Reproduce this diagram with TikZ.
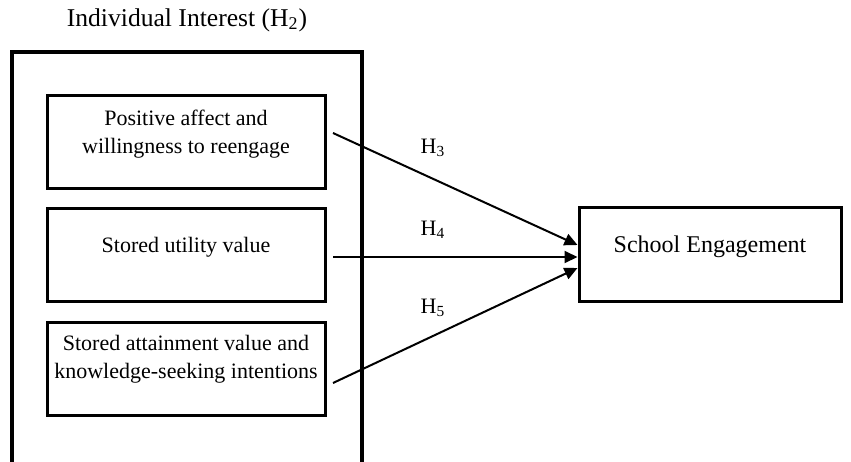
\documentclass[tikz,border=0pt]{standalone}
\usepackage{fontspec}
\setmainfont{Liberation Serif}
\usetikzlibrary{arrows.meta}
\tikzset{
  inbox/.style={draw,line width=1.5pt,minimum width=139pt,minimum height=46.5pt},
  txt/.style={align=center,font=\fontsize{11}{14}\selectfont},
  arr/.style={-{Triangle[length=6.5pt,width=6pt]},line width=1pt}
}
\begin{document}
\begin{tikzpicture}[x=0.5pt,y=-0.5pt]
      \useasboundingbox (0,0) rectangle (851,461);

      \node[txt,font=\fontsize{12.8}{14}\selectfont] (title) at (187,20) {Individual Interest (H\textsubscript{2})};
      \draw[line width=2pt] (12,462) -- (12,52) -- (362,52) -- (362,462);

      \node[inbox] (pa) at (186,141.5) {};
      \node[inbox] (su) at (186,255) {};
      \node[inbox] (sa) at (186,368.5) {};
      \node[txt] (patxt) at ([yshift=3.5pt]pa) {Positive affect and\\willingness to reengage};
      \node[txt] (sutxt) at ([yshift=4pt]su) {Stored utility value};
      \node[txt] (satxt) at ([yshift=4.5pt]sa) {Stored attainment value and\\knowledge-seeking intentions};

      \node[draw,line width=1.5pt,minimum width=131pt,minimum height=47pt] (se) at (710,254) {};
      \node[txt,font=\fontsize{12}{14}\selectfont] (setxt) at ([yshift=3.5pt]se) {School Engagement};

      \draw[arr] ([shift={(6.5,-8.5)}]pa.east) -- ([yshift=4.5pt]se.west);
      \draw[arr] ([shift={(6.5,2)}]su.east) -- ([yshift=-1.5pt]se.west);
      \draw[arr] ([shift={(6.5,14.5)}]sa.east) -- ([yshift=-7pt]se.west);

      \node[txt] (h3) at (433,148) {H\textsubscript{3}};
      \node[txt] (h4) at (433,230) {H\textsubscript{4}};
      \node[txt] (h5) at (433,308) {H\textsubscript{5}};
    \end{tikzpicture}
\end{document}
